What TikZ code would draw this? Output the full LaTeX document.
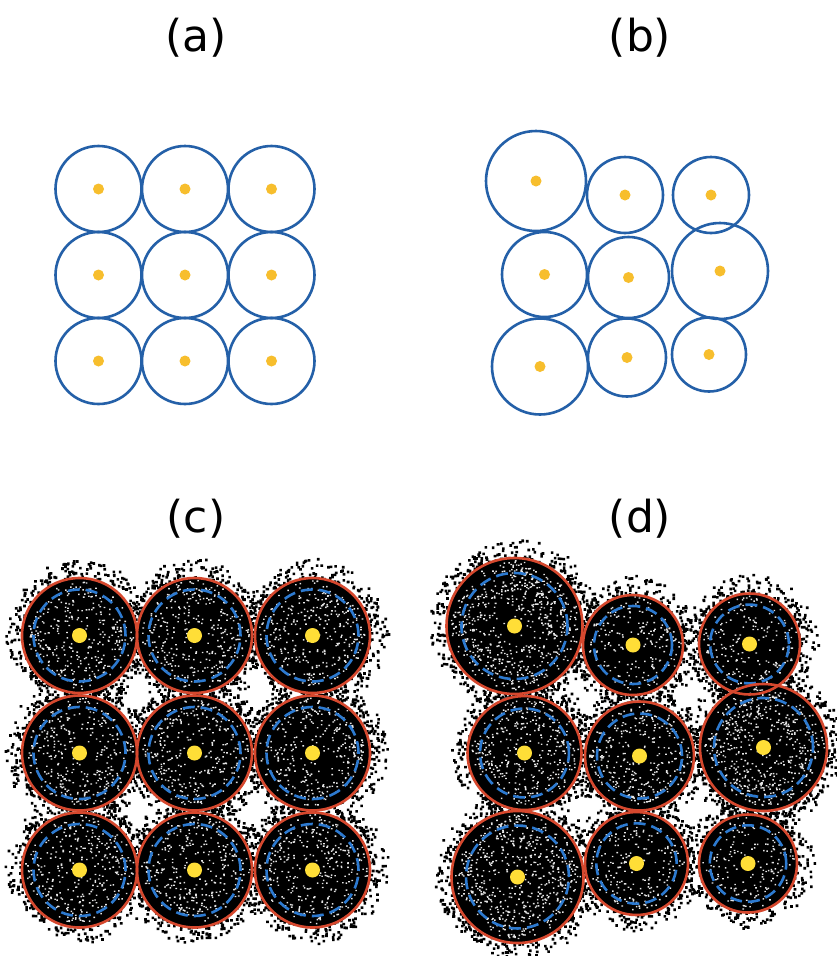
\documentclass[tikz,border=0pt]{standalone}
\usepackage{fontspec}
\setmainfont{DejaVu Sans}
\definecolor{cblue}{RGB}{36,96,168}
\definecolor{cyel}{RGB}{247,190,45}
\definecolor{cred}{RGB}{214,72,46}
\definecolor{cdash}{RGB}{45,122,208}
\definecolor{cyel2}{RGB}{255,222,55}
\tikzset{
  title/.style={font=\fontsize{44}{50}\selectfont, inner sep=0pt},
  ring/.style={draw=cblue, line width=2.6pt},
  redring/.style={draw=cred, line width=2.6pt},
  dashring/.style={draw=cdash, line width=2.6pt, dash pattern=on 12pt off 6pt},
}
\newcommand\outcloud[3]{%
  \pgfmathtruncatemacro\nn{6*#3}%
  \fill[black] foreach \k in {1,...,\nn}{
    ([shift={({360*rnd}:{#3-2+20*rnd^1.3})}]#1,#2) rectangle ++(2.6pt,2.6pt)
  };}
\newcommand\incloud[4]{%
  \fill[black] (#1,#2) circle[radius=#3 pt];
  \fill[white!80!gray] foreach \k in {1,...,#4}{
    ([shift={({360*rnd}:{0.95*#3*sqrt(rnd)})}]#1,#2) rectangle ++(1.6pt,1.4pt)
  };}
\begin{document}
\begin{tikzpicture}[x=1pt,y=-1pt]
\pgfmathsetseed{7}
\useasboundingbox (0,0) rectangle (837,956);
\fill[white] (0,0) rectangle (837,956);

% titles
\node[title] (ta) at (196,38) {(a)};
\node[title] (tb) at (640,38) {(b)};
\node[title] (tc) at (196,519) {(c)};
\node[title] (td) at (640,519) {(d)};

% panel (a)
\foreach \x/\y in {98.5/189,185/189,271.5/189,98.5/275,185/275,271.5/275,98.5/361,185/361,271.5/361}{
  \draw[ring] (\x,\y) circle[radius=43pt];
  \fill[cyel] (\x,\y) circle[radius=5.5pt];
}

% panel (b)
\foreach \x/\y/\r in {536/181/50,625/195/38,711/195/38,544.5/274.5/42.5,628.5/277.5/40.5,720/271/48,540/366.5/48,627/357.5/39,709/354.5/37}{
  \draw[ring] (\x,\y) circle[radius=\r pt];
  \fill[cyel] (\x,\y) circle[radius=5.5pt];
}

% panel (c)
\foreach \x/\y in {79.5/635.5,194.5/635.5,312.5/635.5,79.5/753,194.5/753,312.5/753,79.5/870,194.5/870,312.5/870}{
  \outcloud{\x}{\y}{57.5}
}
\foreach \x/\y in {79.5/635.5,194.5/635.5,312.5/635.5,79.5/753,194.5/753,312.5/753,79.5/870,194.5/870,312.5/870}{
  \incloud{\x}{\y}{57.5}{330}
}
\foreach \x/\y in {79.5/635.5,194.5/635.5,312.5/635.5,79.5/753,194.5/753,312.5/753,79.5/870,194.5/870,312.5/870}{
  \draw[dashring] (\x,\y) circle[radius=46pt];
  \draw[redring] (\x,\y) circle[radius=57.5pt];
  \fill[cyel2] (\x,\y) circle[radius=7.5pt];
}

% panel (d)
\foreach \x/\y/\r/\n in {514.5/626/68/650,633/645/50/200,749.5/644/50.5/200,524.5/753/57/360,639.5/756/54.5/320,763.5/747.5/63.5/560,517.5/877/66/600,636.5/863.5/51.5/220,748/863.5/49/180}{
  \outcloud{\x}{\y}{\r}
}
\foreach \x/\y/\r/\n in {514.5/626/68/650,633/645/50/200,749.5/644/50.5/200,524.5/753/57/360,639.5/756/54.5/320,763.5/747.5/63.5/560,517.5/877/66/600,636.5/863.5/51.5/220,748/863.5/49/180}{
  \incloud{\x}{\y}{\r}{\n}
}
\foreach \x/\y/\r in {514.5/626/68,633/645/50,749.5/644/50.5,524.5/753/57,639.5/756/54.5,763.5/747.5/63.5,517.5/877/66,636.5/863.5/51.5,748/863.5/49}{
  \pgfmathsetmacro\rb{0.78*\r}
  \draw[dashring] (\x,\y) circle[radius=\rb pt];
}
\foreach \x/\y/\r in {514.5/626/68,633/645/50,749.5/644/50.5,524.5/753/57,639.5/756/54.5,763.5/747.5/63.5,517.5/877/66,636.5/863.5/51.5,748/863.5/49}{
  \draw[redring] (\x,\y) circle[radius=\r pt];
  \fill[cyel2] (\x,\y) circle[radius=7.5pt];
}
\end{tikzpicture}
\end{document}
